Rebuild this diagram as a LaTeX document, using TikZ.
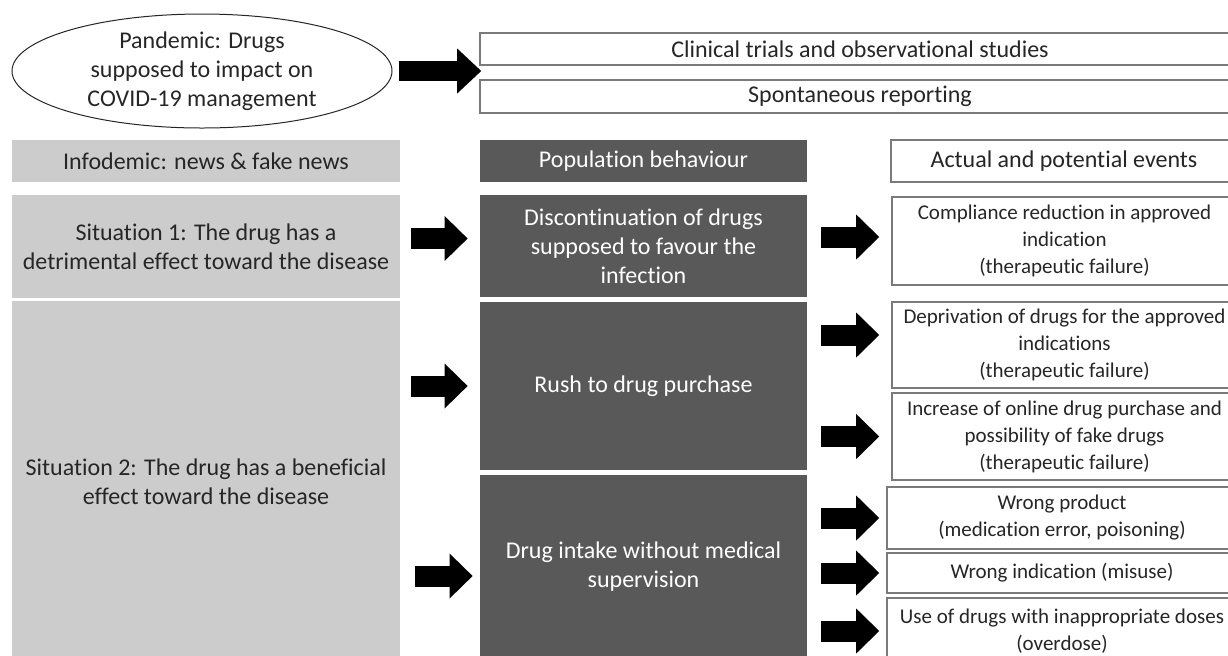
\documentclass[tikz,border=0pt]{standalone}
\usepackage{fontspec}
\setmainfont{Carlito}[Ligatures={NoCommon,NoContextual}, Contextuals=NoAlternate, RawFeature={-dlig;-rlig}]
\usepackage{tikz}
\usetikzlibrary{
  arrows.meta,
  shapes.geometric,
  positioning,
  calc
}
\definecolor{lightfill}{HTML}{CCCCCC}
\definecolor{darkfill}{HTML}{595959}
\definecolor{textgrey}{HTML}{262626}
\definecolor{boxline}{HTML}{7A7A7A}
\tikzset{>=latex}
\tikzset{
  txtbig/.style={font=\fontsize{12}{14.5}\selectfont},
  txtsmall/.style={font=\fontsize{10.5}{13.5}\selectfont},
  lightbox/.style={fill=lightfill, text=textgrey, align=center, inner sep=0pt, txtbig},
  darkbox/.style={fill=darkfill, text=white, align=center, inner sep=0pt, txtbig},
  whitebox/.style={draw=boxline, line width=0.8pt, fill=white, text=textgrey,
    align=center, inner sep=0pt, txtbig},
  eventbox/.style={whitebox, txtsmall},
  fatarrow/.style={line width=10.5pt, shorten <=7pt, shorten >=6pt,
    -{Triangle[width=22.5pt, length=11.5pt, line width=0pt]}},
}

\begin{document}
\begin{tikzpicture}[x=0.5pt, y=-0.5pt]
  \useasboundingbox (0,0) rectangle (1228,655);
  \clip (0,0) rectangle (1228,655);

  % top row
  \node[ellipse, draw=textgrey, line width=0.5pt, text=textgrey, align=center,
    inner sep=0pt, minimum width=190pt, minimum height=57pt, txtbig] (pand) at (202,71)
    {Pandemic: Drugs\\supposed to impact on\\COVID-19 management};
  \node[whitebox, minimum width=380pt, minimum height=16pt] (clin) at (860,49)
    {Clinical trials and observational studies};
  \node[whitebox, minimum width=380pt, minimum height=16.5pt] (spont) at (860,96.5)
    {Spontaneous reporting};

  % column headers
  \node[lightbox, minimum width=194pt, minimum height=21pt] (info) at (206,161)
    {Infodemic: news \& fake news};
  \node[darkbox, minimum width=163.5pt, minimum height=21pt] (popb) at (643.5,161)
    {Population behaviour};
  \node[whitebox, minimum width=173pt, minimum height=21pt] (actev) at (1064,161)
    {Actual and potential events};

  % situations
  \node[lightbox, minimum width=194pt, minimum height=51.5pt] (sit1) at (206,246.5)
    {Situation 1: The drug has a\\detrimental effect toward the disease};
  \node[lightbox, minimum width=194pt, minimum height=181pt] (sit2) at (206,482)
    {Situation 2: The drug has a beneficial\\effect toward the disease};

  % behaviours
  \node[darkbox, minimum width=163.5pt, minimum height=51pt] (disc) at (643.5,246)
    {Discontinuation of drugs\\supposed to favour the\\infection};
  \node[darkbox, minimum width=163.5pt, minimum height=84pt] (rush) at (643.5,386)
    {Rush to drug purchase};
  \node[darkbox, minimum width=163.5pt, minimum height=92pt] (intake) at (643.5,567)
    {Drug intake without medical\\supervision};

  % events
  \node[eventbox, minimum width=172.5pt, minimum height=44pt] (comp) at (1064.5,241)
    {Compliance reduction in approved\\indication\\(therapeutic failure)};
  \node[eventbox, minimum width=172.5pt, minimum height=43pt] (depr) at (1064.5,345)
    {Deprivation of drugs for the approved\\indications\\(therapeutic failure)};
  \node[eventbox, minimum width=172.5pt, minimum height=43.5pt] (incr) at (1064.5,436.5)
    {Increase of online drug purchase and\\possibility of fake drugs\\(therapeutic failure)};
  \node[eventbox, minimum width=175pt, minimum height=31pt] (wprod) at (1062,518)
    {Wrong product\\(medication error, poisoning)};
  \node[eventbox, minimum width=175pt, minimum height=20pt] (wind) at (1062,573)
    {Wrong indication (misuse)};
  \node[eventbox, minimum width=175pt, minimum height=33pt] (usedr) at (1062,631)
    {Use of drugs with inappropriate doses\\(overdose)};

  % block arrows
  \draw[fatarrow, line width=10pt, shorten <=3pt, shorten >=-1pt,
    -{Triangle[width=22.5pt, length=12pt, line width=0pt]}]
    (pand.east) -- (pand.east -| clin.west);
  \draw[fatarrow, shorten <=5.5pt] ([yshift=4pt]sit1.east) -- ([yshift=4pt]sit1.east -| disc.west);
  \draw[fatarrow] ([yshift=2pt]disc.east |- comp.west) -- ([yshift=2pt]comp.west);
  \draw[fatarrow, shorten <=5.5pt] (sit2.east |- rush.west) -- (rush.west);
  \draw[fatarrow, shorten <=7.5pt, shorten >=3.5pt]
    ([yshift=-4.5pt]sit2.east |- intake.west) -- ([yshift=-4.5pt]intake.west);
  \draw[fatarrow] ([yshift=5pt]rush.east |- depr.west) -- ([yshift=5pt]depr.west);
  \draw[fatarrow] (rush.east |- incr.west) -- (incr.west);
  \foreach \ev in {wprod, wind, usedr}
    \draw[fatarrow, shorten >=3.5pt] (intake.east |- \ev.west) -- (\ev.west);
\end{tikzpicture}
\end{document}
